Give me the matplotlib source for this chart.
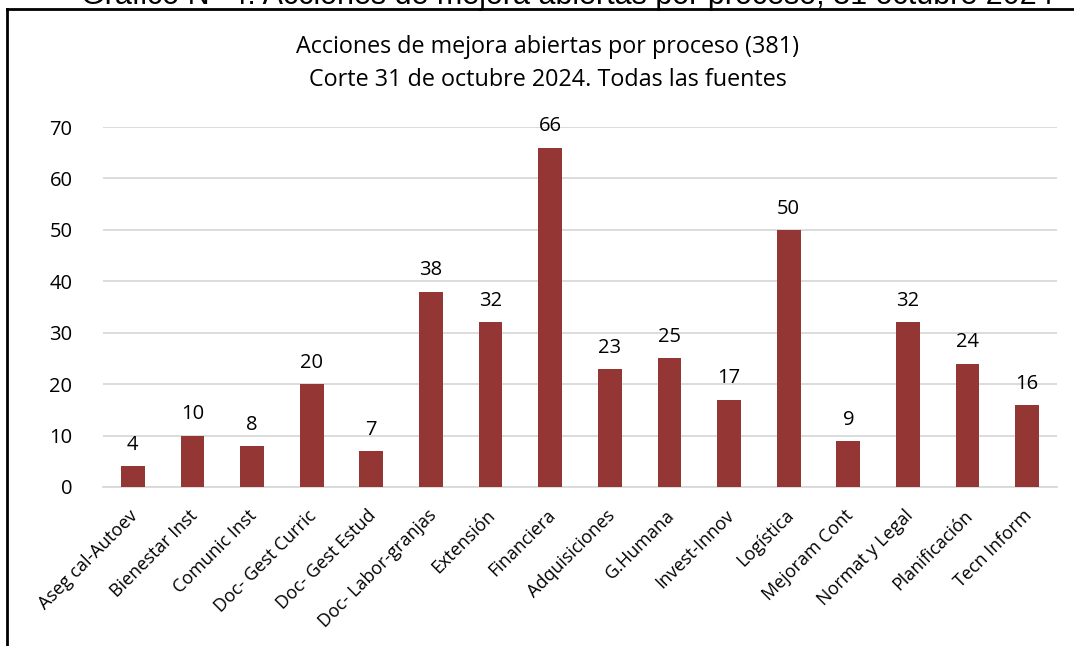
import matplotlib.pyplot as plt
import matplotlib.transforms as mtransforms
from matplotlib.lines import Line2D

procesos = ["Aseg cal-Autoev", "Bienestar Inst", "Comunic Inst", "Doc- Gest Curric",
            "Doc- Gest Estud", "Doc- Labor-granjas", "Extensión", "Financiera",
            "Adquisiciones", "G.Humana", "Invest-Innov", "Logística", "Mejoram Cont",
            "Normat y Legal", "Planificación", "Tecn Inform"]
acciones = [4, 10, 8, 20, 7, 38, 32, 66, 23, 25, 17, 50, 9, 32, 24, 16]
yticks = [0, 10, 20, 30, 40, 50, 60, 70]

plt.rcParams['font.family'] = ['Open Sans', 'DejaVu Sans']

fig = plt.figure(figsize=(10.74, 6.46), dpi=100)
ax = fig.add_axes([103/1074, 1-487/646, 954/1074, 360/646])

x = range(len(procesos))
bars = ax.bar(x, acciones, width=0.4, color="#943634", zorder=3)
ax.bar_label(bars, padding=8, fontsize=14.5)

ax.set_xlim(-0.5, len(procesos)-0.5)
ax.set_ylim(0, 70)
ax.set_yticks(yticks)
ax.set_xticks(list(x))
ax.set_xticklabels(procesos, rotation=45, ha="right", rotation_mode="anchor", fontsize=13)
ax.tick_params(axis="y", labelsize=14.5, length=0, pad=22)
ax.tick_params(axis="x", length=0, pad=14)
# mover un poco las etiquetas a la izquierda
shift = mtransforms.ScaledTranslation(-4/100, 0, fig.dpi_scale_trans)
for lbl in ax.get_xticklabels():
    lbl.set_transform(lbl.get_transform() + shift)
ax.grid(axis="y", color="#d9d9d9", linewidth=1.3, zorder=0)
for s in ["top", "right", "left"]:
    ax.spines[s].set_visible(False)
ax.spines["bottom"].set_color("#d9d9d9")
ax.spines["bottom"].set_linewidth(1.3)

fig.text(548/1074, 1-47/646, "Acciones de mejora abiertas por proceso (381)",
         ha="center", va="center", fontsize=16.8)
fig.text(548/1074, 1-80/646, "Corte 31 de octubre 2024. Todas las fuentes",
         ha="center", va="center", fontsize=16.8)

# encabezado cortado arriba
fig.text(567/1074, 1-4/646, "Gráfico N° 4: Acciones de mejora abiertas por proceso, 31 octubre 2024",
         ha="center", va="baseline", fontsize=22, family=["Liberation Sans", "DejaVu Sans"])

# marco
fig.add_artist(Line2D([7/1074, 7/1074], [0, 1-9/646], color="black", linewidth=2, transform=fig.transFigure))
fig.add_artist(Line2D([7/1074, 1], [1-9/646, 1-9/646], color="black", linewidth=2, transform=fig.transFigure))

fig.savefig("out.png", dpi=100)
